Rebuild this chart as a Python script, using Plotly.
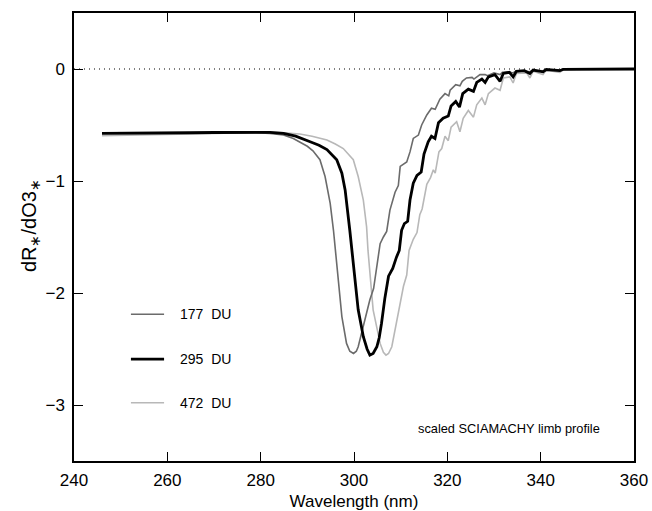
import plotly.graph_objects as go

# ---- data ----
wl_177 = [246, 250, 255, 260, 265, 270, 275, 279, 282, 284.9, 287, 288.4, 290, 291.2, 292.7,
          293.8, 294.9, 295.6, 296.6, 297.4, 298.4, 299.1, 299.9, 300.5, 300.9, 302.0, 303.4,
          304.2, 304.9, 305.6, 306.3, 307.0, 307.7, 308.8, 309.5, 309.9, 311.3, 312.0, 312.7,
          313.8, 314.5, 315.6, 316.6, 317.4, 318.4, 319.5, 320.3, 320.6, 321.8, 322.7, 323.2,
          324.1, 325.3, 325.7, 327.0, 328.1, 328.6, 330.0, 331.3, 331.8, 333.0, 334.1, 334.6,
          336.0, 337.7, 338.2, 340.5, 341.0, 344.1, 344.6, 348, 352, 356, 360]
val_177 = [-0.57, -0.57, -0.568, -0.567, -0.566, -0.565, -0.565, -0.568, -0.575, -0.59, -0.62,
           -0.65, -0.69, -0.73, -0.81, -0.96, -1.2, -1.44, -1.85, -2.21, -2.45, -2.52, -2.54,
           -2.52, -2.48, -2.30, -2.06, -1.96, -1.78, -1.56, -1.50, -1.45, -1.26, -1.10, -1.04,
           -0.87, -0.83, -0.74, -0.62, -0.59, -0.50, -0.41, -0.35, -0.36, -0.27, -0.22, -0.24,
           -0.19, -0.14, -0.15, -0.11, -0.08, -0.075, -0.09, -0.05, -0.05, -0.06, -0.035, -0.05,
           -0.03, -0.025, -0.035, -0.02, -0.015, -0.025, -0.012, -0.015, -0.008, -0.01, -0.004,
           -0.002, 0, 0, 0]

wl_295 = [246, 250, 255, 260, 265, 270, 275, 279, 282, 284.9, 287.5, 290.6, 292.5, 294.2, 296.3,
          297.4, 298.1, 299.1, 299.9, 300.9, 302.0, 302.8, 303.4, 304.1, 304.9, 305.4, 305.9,
          306.6, 307.4, 308.3, 309.1, 309.7, 310.2, 310.8, 311.5, 312.0, 312.7, 313.5, 314.4,
          315.0, 315.9, 316.6, 317.35, 318.1, 319.1, 320.2, 320.8, 321.8, 322.6, 323.3, 324.5,
          325.6, 326.3, 327.4, 328.1, 328.8, 330.2, 331.3, 332.0, 333.3, 334.1, 334.8, 336.5,
          337.7, 338.4, 340.5, 341.2, 344.1, 344.8, 348, 352, 356, 360]
val_295 = [-0.575, -0.575, -0.573, -0.571, -0.569, -0.567, -0.565, -0.563, -0.566, -0.574, -0.60,
           -0.65, -0.68, -0.72, -0.81, -0.93, -1.08, -1.44, -1.77, -2.15, -2.39, -2.50, -2.555,
           -2.54, -2.48, -2.40, -2.27, -2.05, -1.85, -1.78, -1.68, -1.62, -1.44, -1.38, -1.36,
           -1.17, -1.02, -0.95, -0.92, -0.76, -0.65, -0.60, -0.62, -0.48, -0.44, -0.42, -0.33,
           -0.29, -0.34, -0.22, -0.18, -0.20, -0.12, -0.09, -0.12, -0.07, -0.05, -0.11, -0.04,
           -0.03, -0.07, -0.02, -0.015, -0.04, -0.01, -0.025, -0.005, -0.015, -0.003, -0.002,
           0, 0, 0]

wl_472 = [246, 250, 255, 260, 265, 270, 275, 279, 282, 285, 288.4, 291, 294.2, 296, 297.7, 299.85,
          300.9, 302.0, 302.7, 303.0, 304.1, 305.6, 306.3, 306.85, 307.4, 308.1, 309.1, 310.0,
          310.6, 311.3, 311.8, 312.7, 313.5, 314.1, 314.6, 315.6, 316.4, 317.0, 317.4, 318.2,
          318.8, 319.5, 320.2, 320.8, 322.0, 322.7, 323.4, 324.5, 325.6, 326.3, 327.4, 328.1,
          328.8, 330.2, 331.3, 332.0, 333.4, 334.1, 334.8, 337.0, 337.7, 338.4, 340.5, 341.2,
          344.1, 344.8, 348, 352, 356, 360]
val_472 = [-0.595, -0.593, -0.59, -0.585, -0.58, -0.575, -0.57, -0.565, -0.565, -0.57, -0.58,
           -0.60, -0.634, -0.67, -0.71, -0.81, -0.96, -1.17, -1.41, -1.62, -2.15, -2.45, -2.53,
           -2.555, -2.54, -2.48, -2.27, -2.08, -1.94, -1.84, -1.62, -1.52, -1.46, -1.30, -1.25,
           -1.03, -0.97, -0.90, -0.93, -0.74, -0.71, -0.60, -0.64, -0.52, -0.47, -0.56, -0.44,
           -0.37, -0.43, -0.32, -0.26, -0.32, -0.22, -0.17, -0.19, -0.08, -0.07, -0.125, -0.04,
           -0.035, -0.08, -0.02, -0.05, -0.01, -0.03, -0.005, -0.003, 0, 0, 0]

x_ticks = [240, 260, 280, 300, 320, 340, 360]
y_ticks = [-3, -2, -1, 0]
legend_labels = ["177\u00a0\u00a0DU", "295\u00a0\u00a0DU", "472\u00a0\u00a0DU"]
legend_y = [-2.19, -2.59, -2.98]
colors = ["#6b6b6b", "#000000", "#b8b8b8"]
widths = [1.6, 2.8, 1.6]

FONT = "Liberation Sans"

fig = go.Figure()
# zero reference dotted line
fig.add_trace(go.Scatter(x=[240, 360], y=[0, 0], mode="lines",
                         line=dict(color="black", width=1.2, dash="1px,4px"),
                         showlegend=False, hoverinfo="skip"))
for wl, val, c, w in [(wl_472, val_472, colors[2], widths[2]),
                      (wl_177, val_177, colors[0], widths[0]),
                      (wl_295, val_295, colors[1], widths[1])]:
    fig.add_trace(go.Scatter(x=wl, y=val, mode="lines", line=dict(color=c, width=w),
                             showlegend=False))

for lab, ly, c, w in zip(legend_labels, legend_y, colors, widths):
    fig.add_shape(type="line", x0=252.2, x1=259.3, y0=ly, y1=ly, xref="x", yref="y",
                  line=dict(color=c, width=w))
    fig.add_annotation(x=262.3, y=ly, xref="x", yref="y", text=lab, showarrow=False,
                       xanchor="left", yanchor="middle", font=dict(family=FONT, size=14, color="black"))

fig.add_annotation(x=0.61, y=-3.21, xref="paper", yref="y", text="scaled SCIAMACHY limb profile",
                   showarrow=False, xanchor="left", yanchor="middle",
                   font=dict(family=FONT, size=12.8, color="black"))

# y-axis title
fig.add_annotation(x=-0.078, y=0.525, xref="paper", yref="paper",
                   text="dR<sub>\u2217</sub>/dO3<sub>\u2217</sub>", textangle=-90, showarrow=False,
                   xanchor="center", yanchor="middle",
                   font=dict(family=FONT, size=20, color="black"))

axis_common = dict(showline=True, linecolor="black", linewidth=1.5, mirror="ticks",
                   ticks="inside", ticklen=9, tickwidth=1.2, tickcolor="black",
                   showgrid=False, zeroline=False, automargin=False,
                   tickfont=dict(family=FONT, size=17, color="black"))
fig.update_xaxes(range=[240, 360], tickvals=x_ticks, ticklabelstandoff=3,
                 title=dict(text="Wavelength (nm)", font=dict(family=FONT, size=17, color="black"),
                            standoff=6),
                 **axis_common)
fig.update_yaxes(range=[-3.5, 0.5], tickvals=y_ticks, ticklabelstandoff=4, **axis_common)
fig.update_layout(width=652, height=511, margin=dict(l=74, r=18, t=13, b=50),
                  plot_bgcolor="white", paper_bgcolor="white", showlegend=False)
fig.write_html("out.html", config={"displayModeBar": False},
               post_script="document.body.style.margin='0';document.body.style.overflow='hidden';")
